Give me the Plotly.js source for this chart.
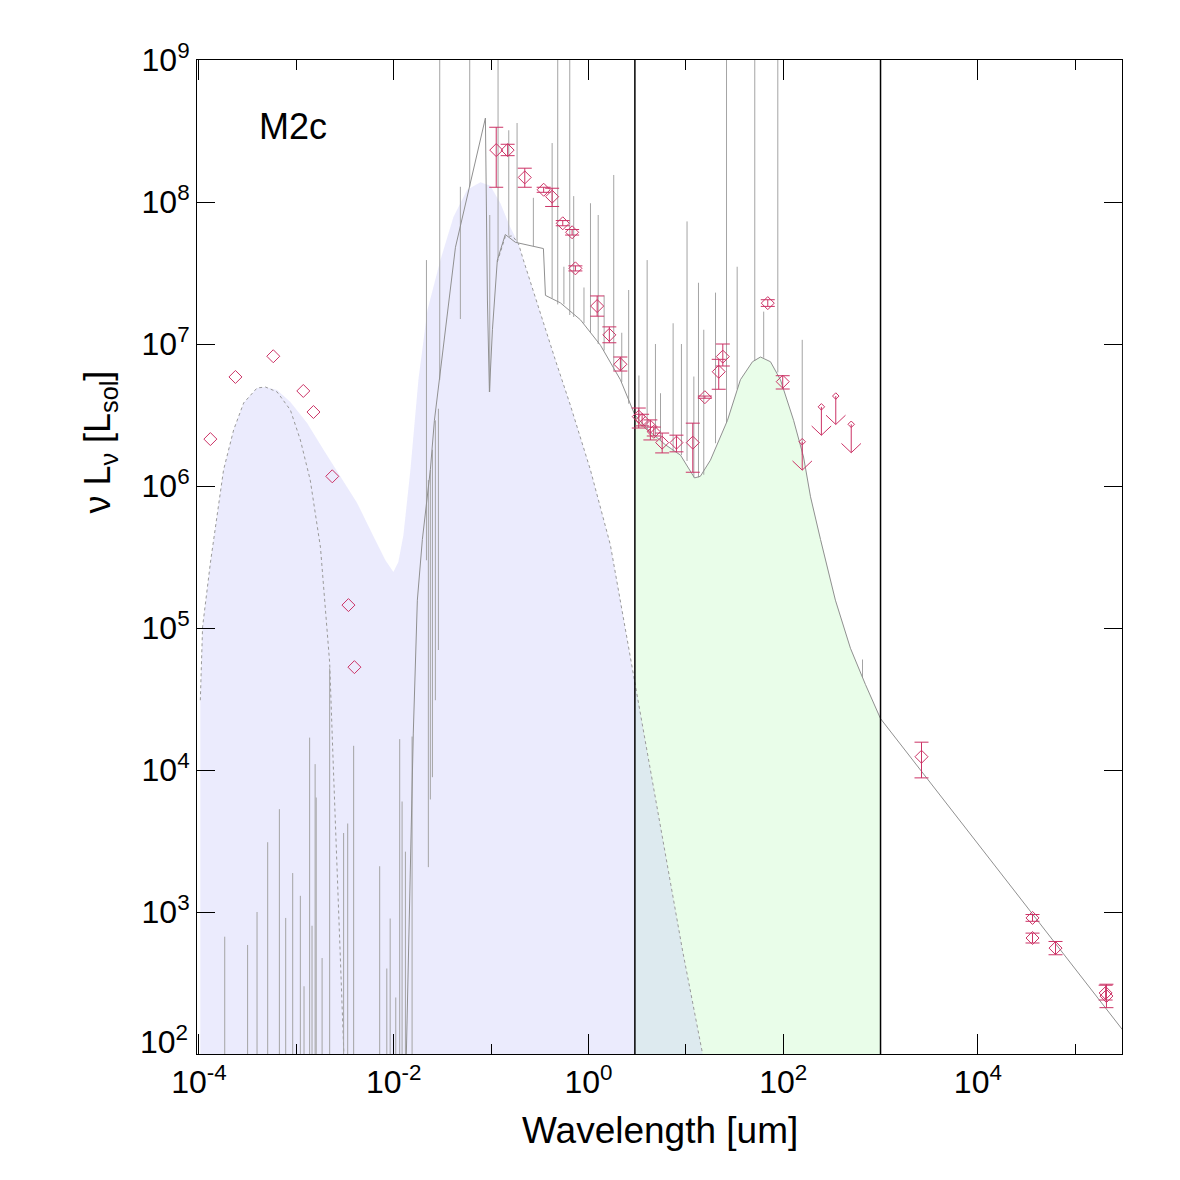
<!DOCTYPE html>
<html><head><meta charset="utf-8">
<script src="https://cdn.plot.ly/plotly-3.0.1.min.js"></script>
<style>html,body{margin:0;padding:0;background:#fff}#chart{width:1180px;height:1180px}</style>
</head><body><div id="chart"></div>
<script>
// ---- total model continuum (gray line), wavelength [um] / nuLnu [Lsol]
const contX = [0.0132, 0.01486, 0.0159, 0.0175, 0.0197, 0.0238, 0.0262, 0.0431, 0.0875, 0.0918, 0.0962, 0.1033, 0.116, 0.140, 0.178, 0.345, 0.362, 0.515, 0.828, 1.33, 2.13, 3, 4.33, 6.18, 8.82, 12.3, 14.1, 17.9, 26.8, 36.4, 48.4, 58.5, 74.1, 93.8, 128, 162, 191, 242, 344, 491, 700, 1000, 3.06e5];
const contY = [50, 2.7e3, 1.82e4, 1.57e5, 4.2e5, 1.3e6, 2.9e6, 4.8e7, 3.9e8, 2.04e7, 4.6e6, 1.26e7, 3.9e7, 5.9e7, 5.2e7, 4.7e7, 2.2e7, 1.95e7, 1.48e7, 9.8e6, 5.6e6, 3.16e6, 2.4e6, 1.95e6, 1.65e6, 1.14e6, 1.17e6, 1.52e6, 2.9e6, 5.6e6, 7.5e6, 8.1e6, 7.5e6, 5.6e6, 2.9e6, 1.6e6, 8.4e5, 4.2e5, 1.57e5, 7.2e4, 4.0e4, 2.3e4, 148];

// ---- emission / absorption lines of the total model (x, low end, high end)
const lineX  = [1.84e-4, 3.16e-4, 3.95e-4, 5.08e-4, 6.7e-4, 7.78e-4, 9.18e-4, 1.10e-3, 1.2e-3, 1.37e-3, 1.45e-3, 1.56e-3, 1.60e-3, 1.84e-3, 2.20e-3, 3.06e-3, 3.37e-3, 3.88e-3, 7.18e-3, 8.5e-3, 9.2e-3, 0.0105, 0.01153, 0.0122, 0.0132, 0.01545,
                0.0227, 0.0238, 0.0250, 0.0268, 0.0288,
                0.0217, 0.0297, 0.0484, 0.0604, 0.097, 0.118, 0.152, 0.185, 0.272, 0.424, 0.484, 0.56, 0.643, 0.706, 0.9, 1.05, 1.26, 1.45, 1.82, 2.2, 2.59, 3.3, 4.01, 4.88, 5.5, 7.41, 9.02, 10.3, 12.1, 13.5, 15.3, 20.2, 26.2, 33.7, 51.1, 63.1, 88.1, 157, 653];
const lineLo = [10, 10, 10, 10, 10, 10, 10, 10, 10, 10, 10, 10, 10, 10, 10, 10, 10, 10, 10, 10, 10, 10, 10, 10, 10, 10,
                2.07e3, 6.2e3, 8.9e3, 3.1e4, 7.0e4,
                3e5, 5.6e6, 1.5e7, 1.28e8, 4.6e6, 4e7, 5.8e7, 5.2e7, 4.9e7, 2.1e7, 1.9e7, 1.9e7, 1.6e7, 1.55e7, 1.4e7, 1.2e7, 1.0e7, 9e6, 6.5e6, 5.4e6, 3.8e6, 3e6, 2.5e6, 2.2e6, 2.1e6, 1.75e6, 1.65e6, 1.5e6, 1.15e6, 1.15e6, 1.2e6, 2.0e6, 2.8e6, 4.8e6, 7.6e6, 8.0e6, 6.3e6, 1.65e6, 4.5e4];
const lineHi = [670, 586, 1.0e3, 3.1e3, 5.3e3, 908, 1.88e3, 1.3e3, 300, 1.69e4, 800, 1.1e4, 6.4e3, 474, 5.2e4, 3.6e3, 4.2e3, 1.48e4, 2.1e3, 400, 900, 250, 1.65e4, 6.0e3, 2.66e3, 1.72e4,
                1.1e6, 1.3e6, 1.8e6, 2.9e6, 3.5e6,
                3.9e7, 2e9, 1.28e8, 2e9, 8.1e7, 2e9, 3.2e8, 3.6e8, 1.07e8, 2.6e8, 2e9, 3.5e7, 2e9, 1.1e8, 2.5e7, 9.8e7, 8.1e7, 2.2e7, 1.55e8, 1.2e7, 2.4e7, 6e6, 3.9e7, 1.0e7, 4.5e6, 1.4e7, 1.0e7, 7.3e7, 5.9e6, 2.7e7, 1.26e7, 2.3e7, 2e9, 3.5e7, 2e9, 1.69e7, 2e9, 1.07e7, 6.0e4];

// ---- intrinsic stellar emission (blue filled area)
const intrX = [1.033e-4, 1.09e-4, 1.31e-4, 1.79e-4, 2.27e-4, 2.88e-4, 3.95e-4, 4.81e-4, 6.34e-4, 8.69e-4, 1.29e-3, 1.91e-3, 2.83e-3, 4.21e-3, 6.23e-3, 8.22e-3, 9.93e-3, 0.01117, 0.01258, 0.01486, 0.01795, 0.0222, 0.0302, 0.0410, 0.0568, 0.0778, 0.0984, 0.1247, 0.158, 0.191, 0.215, 0.264, 0.321, 0.458, 0.653, 1.048, 1.68, 2.97, 5.49, 9.24, 14.8, 18.8];
const intrY = [3.1e4, 1.02e5, 2.87e5, 1.3e6, 2.48e6, 3.85e6, 4.9e6, 4.98e6, 4.75e6, 3.9e6, 2.78e6, 1.79e6, 1.16e6, 7.6e5, 4.4e5, 3.0e5, 2.48e5, 2.92e5, 4.5e5, 1.3e6, 5.6e6, 1.73e7, 3.9e7, 7.8e7, 1.22e8, 1.38e8, 1.3e8, 9.8e7, 6.6e7, 5.1e7, 3.9e7, 2.52e7, 1.6e7, 7.7e6, 3.7e6, 1.3e6, 3.85e5, 4.3e4, 4.1e3, 540, 102, 40];

// ---- attenuated stellar emission (dotted line)
const attX = [1.033e-4, 1.09e-4, 1.31e-4, 1.79e-4, 2.27e-4, 2.88e-4, 3.95e-4, 4.81e-4, 6.34e-4, 8.69e-4, 1.10e-3, 1.39e-3, 1.77e-3, 2.07e-3, 2.20e-3, 2.40e-3, 2.58e-3, 2.95e-3, 3.12e-3, null, 0.116, 0.140, 0.166, 0.191, 0.215, 0.264, 0.321, 0.458, 0.653, 1.048, 1.68, 2.97, 5.49, 9.24, 14.8, 18.8];
const attY = [3.1e4, 1.02e5, 2.87e5, 1.3e6, 2.48e6, 3.85e6, 4.9e6, 4.98e6, 4.6e6, 3.43e6, 2.11e6, 1.10e6, 3.7e5, 9.7e4, 5.7e4, 1.05e4, 2.7e3, 240, 78, null, 3.78e7, 5.7e7, 5.77e7, 5.1e7, 3.9e7, 2.52e7, 1.6e7, 7.7e6, 3.7e6, 1.3e6, 3.85e5, 4.3e4, 4.1e3, 540, 102, 40];

// ---- IR range limits [um]
const irRange = [3, 1000];

// ---- observations without error bars
const obsX = [1.31e-4, 2.37e-4, 5.8e-4, 1.18e-3, 1.5e-3, 2.34e-3, 3.43e-3, 3.95e-3];
const obsY = [2.14e6, 5.86e6, 8.2e6, 4.67e6, 3.32e6, 1.17e6, 1.45e5, 5.3e4];

// ---- observations with error bars
const detX  = [0.113, 0.148, 0.222, 0.347, 0.424, 0.545, 0.68, 0.735, 1.23, 1.64, 2.13, 3.29, 3.56, 4.33, 4.69, 5.72, 8.02, 11.8, 15.7, 21.8, 24.0, 69.5, 99, 2635, 3.64e4, 3.64e4, 6.27e4, 2.05e5, 2.09e5];
const detY  = [2.32e8, 2.32e8, 1.49e8, 1.22e8, 1.09e8, 7.08e7, 6.12e7, 3.41e7, 1.85e7, 1.16e7, 7.2e6, 3.08e6, 2.92e6, 2.62e6, 2.41e6, 2.02e6, 2.02e6, 2.02e6, 4.22e6, 6.38e6, 8.15e6, 1.94e7, 5.43e6, 1.24e4, 908, 656, 557, 269, 256];
const detHi = [3.36e8, 2.55e8, 1.73e8, 1.27e8, 1.25e8, 7.4e7, 6.4e7, 3.55e7, 2.18e7, 1.32e7, 8.1e6, 3.54e6, 3.2e6, 2.92e6, 2.6e6, 2.36e6, 2.28e6, 2.77e6, 4.3e6, 7.8e6, 1.0e7, 2.05e7, 5.98e6, 1.57e4, 960, 710, 620, 305, 310];
const detLo = [1.27e8, 2.12e8, 1.27e8, 1.17e8, 9.3e7, 6.8e7, 5.85e7, 3.27e7, 1.57e7, 1.02e7, 6.45e6, 2.56e6, 2.65e6, 2.11e6, 2.25e6, 1.71e6, 1.74e6, 1.25e6, 4.15e6, 4.8e6, 7.0e6, 1.84e7, 4.82e6, 8.8e3, 860, 605, 500, 240, 212];

// ---- upper limits
const limX = [157, 247, 347, 500];
const limY = [2.05e6, 3.61e6, 4.3e6, 2.72e6];

// ---- tick labels
const xTickVals = [1e-4, 1e-2, 1, 1e2, 1e4];
const xTickText = ['10<sup>-4</sup>', '10<sup>-2</sup>', '10<sup>0</sup>', '10<sup>2</sup>', '10<sup>4</sup>'];
const xMinorVals = [1e-3, 1e-1, 10, 1e3, 1e5];
const yTickVals = [1e2, 1e3, 1e4, 1e5, 1e6, 1e7, 1e8, 1e9];
const yTickText = ['10<sup>2</sup>', '10<sup>3</sup>', '10<sup>4</sup>', '10<sup>5</sup>', '10<sup>6</sup>', '10<sup>7</sup>', '10<sup>8</sup>', '10<sup>9</sup>'];

const RED = '#cc3366';
const GRAY = '#909090';
const FONT = 'Liberation Sans, Arial, Helvetica, sans-serif';

// line spikes as segments
const sx = [], sy = [];
lineX.forEach((x, i) => { sx.push(x, x, null); sy.push(lineLo[i], lineHi[i], null); });

// green IR fill (total model between the IR limits)
const gX = [], gY = [];
contX.forEach((x, i) => { if (x >= irRange[0] && x <= irRange[1]) { gX.push(x); gY.push(contY[i]); } });
const FLOOR = 1;
const greenX = [gX[0], ...gX, gX[gX.length - 1]];
const greenY = [FLOOR, ...gY, FLOOR];

const blueX = [intrX[0], ...intrX, intrX[intrX.length - 1]];
const blueY = [FLOOR, ...intrY, FLOOR];

// upper limit arrows
const STEM = 0.2, HEADX = 0.1, HEADY = 0.065;
const ax = [], ay = [];
limX.forEach((x, i) => {
  const tip = limY[i] * Math.pow(10, -STEM);
  const up = tip * Math.pow(10, HEADY);
  ax.push(x, x, null, x * Math.pow(10, -HEADX), x, x * Math.pow(10, HEADX), null);
  ay.push(limY[i], tip, null, up, tip, up, null);
});

const vx = [], vy = [];
irRange.forEach(x => { vx.push(x, x, null); vy.push(1, 1e10, null); });

const traces = [
  {x: greenX, y: greenY, type: 'scatter', mode: 'lines', fill: 'toself', fillcolor: 'rgba(200,250,200,0.4)', line: {width: 0}, hoverinfo: 'skip'},
  {x: blueX, y: blueY, type: 'scatter', mode: 'lines', fill: 'toself', fillcolor: 'rgba(200,200,250,0.36)', line: {width: 0}, hoverinfo: 'skip'},
  {x: attX, y: attY, type: 'scatter', mode: 'lines', line: {color: '#9a9a9a', width: 1, dash: 'dot'}, connectgaps: false},
  {x: sx, y: sy, type: 'scatter', mode: 'lines', line: {color: '#a4a4a4', width: 1}, connectgaps: false},
  {x: contX, y: contY, type: 'scatter', mode: 'lines', line: {color: GRAY, width: 1}},
  {x: vx, y: vy, type: 'scatter', mode: 'lines', line: {color: 'black', width: 1.5}, connectgaps: false},
  {x: obsX, y: obsY, type: 'scatter', mode: 'markers', marker: {symbol: 'diamond-open', size: 10, color: RED, line: {width: 1, color: RED}}},
  {x: detX, y: detY, type: 'scatter', mode: 'markers', marker: {symbol: 'diamond-open', size: 10, color: RED, line: {width: 1, color: RED}},
   error_y: {type: 'data', symmetric: false, array: detHi.map((h, i) => h - detY[i]), arrayminus: detLo.map((l, i) => detY[i] - l), color: RED, thickness: 1, width: 7}},
  {x: ax, y: ay, type: 'scatter', mode: 'lines', line: {color: RED, width: 1}, connectgaps: false},
  {x: limX, y: limY, type: 'scatter', mode: 'markers', marker: {symbol: 'diamond-open', size: 5, color: RED, line: {width: 1, color: RED}}}
];

const axisCommon = {
  type: 'log', showgrid: false, zeroline: false, showline: true, linecolor: 'black', linewidth: 1,
  ticks: 'inside', tickcolor: 'black', tickwidth: 1, mirror: 'allticks', tickmode: 'array',
  tickfont: {family: FONT, size: 32, color: 'black'}
};

const layout = {
  width: 1180, height: 1180,
  margin: {l: 197, r: 58, t: 60, b: 126},
  paper_bgcolor: 'white', plot_bgcolor: 'white',
  showlegend: false, hovermode: false,
  xaxis: Object.assign({}, axisCommon, {range: [-4.02, 5.48], tickvals: xTickVals, ticktext: xTickText, ticklen: 20,
    minor: {ticks: 'inside', ticklen: 10, tickmode: 'array', tickvals: xMinorVals, tickcolor: 'black', tickwidth: 1, showgrid: false}}),
  yaxis: Object.assign({}, axisCommon, {range: [2, 9], tickvals: yTickVals, ticktext: yTickText.map((t, i) => i === 0 ? ' ' : t), ticklen: 18}),
  annotations: [
    {text: 'M2c', xref: 'paper', yref: 'paper', x: 0.0649, y: 0.9326, xanchor: 'left', yanchor: 'middle', showarrow: false, font: {family: FONT, size: 36, color: 'black'}},
    {text: yTickText[0], xref: 'paper', yref: 'paper', x: -0.0076, y: 0.014, xanchor: 'right', yanchor: 'middle', showarrow: false, font: {family: FONT, size: 32, color: 'black'}},
    {text: 'Wavelength [um]', xref: 'paper', yref: 'paper', x: 0.5, y: -0.0765, xanchor: 'center', yanchor: 'middle', showarrow: false, font: {family: FONT, size: 37, color: 'black'}},
    {text: 'ν L<sub>ν</sub> [L<sub>sol</sub>]', xref: 'paper', yref: 'paper', x: -0.105, y: 0.616, xanchor: 'center', yanchor: 'middle', textangle: -90, showarrow: false, font: {family: FONT, size: 36, color: 'black'}}
  ]
};

Plotly.newPlot('chart', traces, layout, {displayModeBar: false, staticPlot: true});
</script></body></html>
